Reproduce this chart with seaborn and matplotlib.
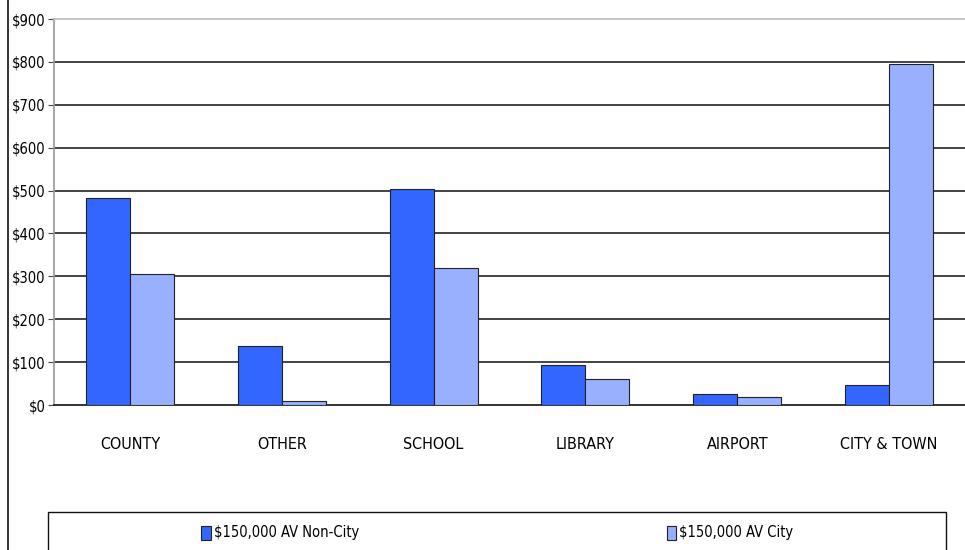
import matplotlib
matplotlib.use("Agg")
import matplotlib.pyplot as plt
import seaborn as sns
import pandas as pd
from matplotlib.lines import Line2D
from matplotlib.patches import Rectangle, Patch
from matplotlib import font_manager

categories = ["COUNTY", "OTHER", "SCHOOL", "LIBRARY", "AIRPORT", "CITY & TOWN"]
non_city = [482, 137, 503, 94, 25, 47]
city = [305, 10, 319, 61, 18, 794]
series = ["$150,000 AV Non-City", "$150,000 AV City"]
yticks = [0, 100, 200, 300, 400, 500, 600, 700, 800, 900]
ytick_labels = ["$0", "$100", "$200", "$300", "$400", "$500", "$600", "$700", "$800", "$900"]
colors = ["#3366FF", "#99AFFF"]

df = pd.DataFrame({
    "category": categories * 2,
    "value": non_city + city,
    "series": [series[0]] * len(categories) + [series[1]] * len(categories),
})

sns.set_style("white")
names = {f.name for f in font_manager.fontManager.ttflist}
if "Liberation Sans Narrow" in names:
    plt.rcParams["font.family"] = ["Liberation Sans Narrow", "DejaVu Sans"]
else:
    plt.rcParams["font.family"] = ["DejaVu Sans"]
    plt.rcParams["font.stretch"] = "condensed"
plt.rcParams["text.color"] = "black"
plt.rcParams["xtick.color"] = "black"
plt.rcParams["ytick.color"] = "black"

fig = plt.figure(figsize=(9.65, 5.5), dpi=100)
ax = fig.add_axes([54 / 965, 1 - 405 / 550, 1 - 54 / 965, (405 - 19) / 550])

sns.barplot(data=df, x="category", y="value", hue="series", order=categories,
            hue_order=series, palette=colors, saturation=1, width=0.58,
            edgecolor="#222222", linewidth=0.8, ax=ax, legend=False, zorder=3)

ax.set_xlim(-0.5, 5.5)
ax.set_ylim(0, 900)
ax.set_yticks(yticks)
ax.set_yticklabels(ytick_labels, fontsize=10.5)
for y in yticks[1:-1]:
    ax.axhline(y, color="#111111", linewidth=1.1, zorder=1)

ax.set_xticks(range(len(categories)))
ax.set_xticklabels(categories, fontsize=11.5)
ax.tick_params(axis="x", which="major", length=0, pad=23)
ax.set_xticks([i + 0.5 for i in range(-1, len(categories))], minor=True)
ax.tick_params(axis="x", which="minor", length=5, color="#444444", direction="out")
ax.tick_params(axis="y", length=4, color="#444444", direction="out", pad=2, left=True)
ax.set_xlabel("")
ax.set_ylabel("")

ax.spines["left"].set_color("#999999")
ax.spines["left"].set_linewidth(1.2)
ax.spines["bottom"].set_color("#111111")
ax.spines["bottom"].set_linewidth(1.2)
ax.spines["top"].set_color("#bbbbbb")
ax.spines["top"].set_linewidth(1.2)
ax.spines["right"].set_visible(False)

fig.add_artist(Line2D([8 / 965, 8 / 965], [0, 1], color="#111111", linewidth=1.2,
                      transform=fig.transFigure))

fig.add_artist(Rectangle((48 / 965, -0.05), (946 - 48) / 965, 0.05 + (550 - 512) / 550,
                         transform=fig.transFigure, facecolor="white",
                         edgecolor="#111111", linewidth=1.0))

for lbl, col, cx in [(series[0], colors[0], 280 / 965), (series[1], colors[1], 730 / 965)]:
    h = Patch(facecolor=col, edgecolor="#222222", linewidth=0.8)
    fig.legend(handles=[h], labels=[lbl], loc="center", bbox_to_anchor=(cx, 1 - 533 / 550),
               frameon=False, fontsize=10.5, handlelength=0.65, handleheight=1.1,
               handletextpad=0.2, borderpad=0)

fig.savefig("out.png", dpi=100)
